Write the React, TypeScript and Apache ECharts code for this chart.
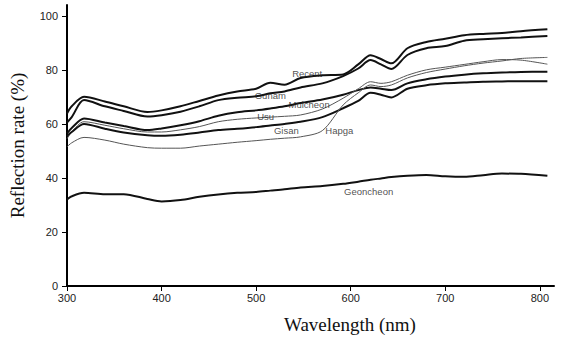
import React, { useEffect, useRef } from "react";
import * as echarts from "echarts";

const wavelengths = [300, 305, 318, 340, 360, 385, 400, 420, 440, 460, 480, 500, 515, 530, 547, 570, 592, 608, 621, 632, 643, 660, 680, 700, 720, 740, 760, 780, 808];

const recent = [63.8, 66.5, 70, 68.3, 66.5, 64.4, 65, 66.5, 68.5, 70.5, 72, 73, 75.2, 74.5, 77, 78, 78.3, 82, 85.4, 84, 82.4, 88, 90.3, 91.5, 92.8, 93.3, 93.6, 94.3, 95];
const gunam = [60.5, 62.5, 68.8, 66.5, 64.8, 62.7, 63.2, 64.5, 66.5, 68.8, 69.7, 70.2, 71.3, 72, 73.5, 75, 77.7, 80.5, 83.6, 82, 80.3, 85.5, 88, 88.8, 90.8, 91.3, 91.7, 92, 92.5];
const mulcheon = [56.5, 58.5, 62, 60.5, 59.2, 57.7, 58.3, 59.5, 61, 63, 64.3, 65, 65.7, 66.5, 67.7, 69, 70.8, 72.5, 73.5, 73, 72.5, 75, 76.5, 77.5, 78.2, 78.7, 79, 79.2, 79.3];
const usu = [54.5, 57, 60.8, 59.5, 58.2, 57, 57, 57.8, 59, 60.8, 61.7, 62.2, 62.5, 62.8, 63.3, 65.5, 69.5, 73, 75.6, 75, 75.6, 78, 80, 81, 82, 83, 83.8, 83.6, 82.1];
const gisan = [55.5, 57, 60, 58.2, 56.8, 55.8, 55.6, 56, 56.8, 57.7, 58.2, 58.8, 59.4, 60, 60.8, 62.5, 65.8, 68.5, 71.5, 70.8, 69.8, 73, 74.3, 75, 75.3, 75.6, 75.7, 75.8, 75.8];
const hapga = [51.5, 53, 55, 54, 52.5, 51.2, 51, 51, 51.8, 52.5, 53.2, 53.8, 54.3, 54.7, 55.2, 57.5, 67, 71.5, 74.4, 73.8, 74.4, 77, 79, 80.3, 81.5, 82.5, 83.3, 84.2, 84.6];
const geoncheon = [32, 33.2, 34.5, 34, 34, 32.2, 31.3, 31.8, 33, 33.9, 34.5, 34.8, 35.3, 35.8, 36.5, 37, 37.8, 38.6, 39.3, 39.8, 40.3, 40.8, 41.1, 40.6, 40.4, 41, 41.6, 41.5, 40.8];

const xTicks = [300, 400, 500, 600, 700, 800];
const yTicks = [0, 20, 40, 60, 80, 100];

const labelNames = ["Recent", "Gunam", "Mulcheon", "Usu", "Gisan", "Hapga", "Geoncheon"];
const labelX = [554, 515, 556, 510, 532, 588, 619];
const labelY = [78.6, 70.5, 67.1, 62.9, 57.7, 57.7, 34.8];

export default function App() {
  const ref = useRef<HTMLDivElement>(null);
  useEffect(() => {
    const chart = echarts.init(ref.current!, null, { renderer: "svg" });
    const mk = (name: string, vals: number[], thick: boolean) => ({
      name,
      type: "line",
      data: wavelengths.map((w, i) => [w, vals[i]]),
      showSymbol: false,
      smooth: 0.3,
      silent: true,
      lineStyle: { color: thick ? "#111" : "#555", width: thick ? 2 : 1 },
    });
    chart.setOption({
      animation: false,
      backgroundColor: "#fff",
      grid: { left: 66, right: 10, top: 5, bottom: 52 },
      xAxis: {
        type: "value",
        min: 300,
        max: 815,
        interval: 100,
        axisLine: { lineStyle: { color: "#000", width: 2 } },
        axisTick: { customValues: xTicks, length: 5, lineStyle: { color: "#000", width: 1 } },
        axisLabel: { customValues: xTicks, margin: 6, fontFamily: "Liberation Sans", fontSize: 11, color: "#222" },
        splitLine: { show: false },
      },
      yAxis: {
        type: "value",
        min: 0,
        max: 104,
        interval: 20,
        name: "Reflection rate (%)",
        nameLocation: "middle",
        nameGap: 40,
        nameRotate: 90,
        nameTextStyle: { fontFamily: "Liberation Serif", fontSize: 19, color: "#111" },
        axisLine: { lineStyle: { color: "#000", width: 2 } },
        axisTick: { customValues: yTicks, length: 5, lineStyle: { color: "#000", width: 1 } },
        axisLabel: { customValues: yTicks, margin: 9, fontFamily: "Liberation Sans", fontSize: 11, color: "#222" },
        splitLine: { show: false },
      },
      graphic: [
        {
          type: "text",
          left: 284,
          top: 315,
          style: { text: "Wavelength (nm)", font: "19px 'Liberation Serif'", fill: "#111" },
        },
      ],
      series: [
        mk("Recent", recent, true),
        mk("Gunam", gunam, true),
        mk("Mulcheon", mulcheon, true),
        mk("Usu", usu, false),
        mk("Gisan", gisan, true),
        mk("Hapga", hapga, false),
        mk("Geoncheon", geoncheon, true),
        {
          type: "scatter",
          silent: true,
          symbolSize: 1,
          itemStyle: { color: "rgba(0,0,0,0)" },
          data: labelNames.map((n, i) => [labelX[i], labelY[i], n]),
          label: {
            show: true,
            position: "inside",
            formatter: (p: any) => p.data[2],
            fontFamily: "Liberation Sans",
            fontSize: 9.5,
            color: "#222",
          },
          z: 10,
        },
      ],
    });
    return () => chart.dispose();
  }, []);
  return <div ref={ref} style={{ position: "fixed", left: 0, top: 0, width: 564, height: 338 }} />;
}
